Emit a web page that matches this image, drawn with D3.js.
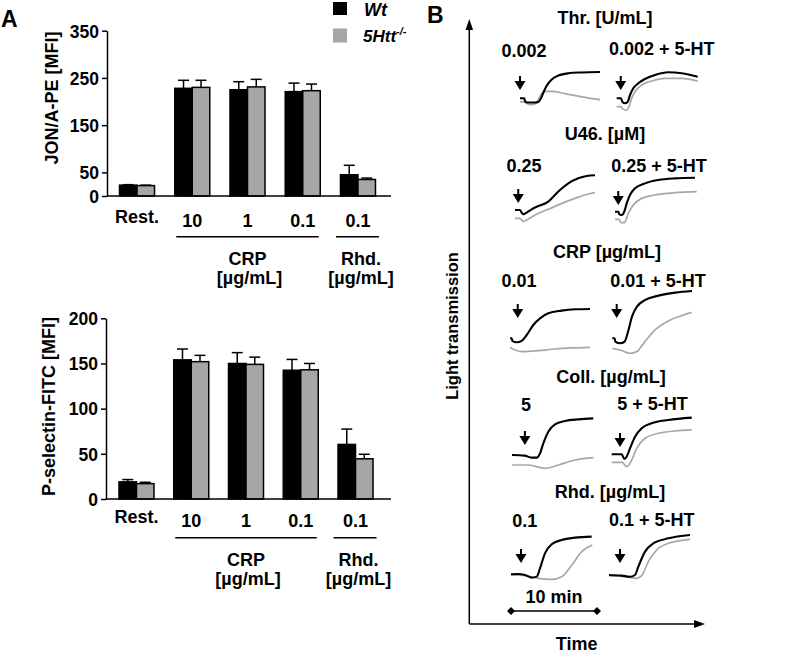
<!DOCTYPE html>
<html><head><meta charset="utf-8">
<script src="https://cdn.jsdelivr.net/npm/d3@7"></script>
<style>
body{margin:0;background:#fff}
svg{display:block}
text{font-family:"Liberation Sans",Arial,sans-serif;font-weight:bold;fill:#000}
</style>
</head><body><svg id="c" width="789" height="654"></svg>
<script>
// ---------- DATA: panel A ----------
const categories = ["Rest.", "10", "1", "0.1", "0.1"];
const seriesNames = ["Wt", "5Htt"];
const jonaWt    = [23, 228, 225, 221, 45];
const jonaWtErr = [1, 17, 17, 18, 20];
const jonaKo    = [22, 230, 231, 223, 35];
const jonaKoErr = [1, 15, 16, 14, 3];
const jonaTicks = [0, 50, 150, 250, 350];
const pselWt    = [19, 154, 150, 142.5, 60.4];
const pselWtErr = [2.5, 12, 12, 12, 17];
const pselKo    = [17, 152, 149, 143, 44.5];
const pselKoErr = [1.5, 7, 8, 7, 5];
const pselTicks = [0, 50, 100, 150, 200];

// ---------- DATA: panel B (time in min, light transmission in %) ----------
const traceTitles = ["Thr. [U/mL]", "U46. [µM]", "CRP [µg/mL]", "Coll. [µg/mL]", "Rhd. [µg/mL]"];
const leftLabels  = ["0.002", "0.25", "0.01", "5", "0.1"];
const rightLabels = ["0.002 + 5-HT", "0.25 + 5-HT", "0.01 + 5-HT", "5 + 5-HT", "0.1 + 5-HT"];
const thrL_wt = [[0,0],[0.5,0],[0.58,-4.8],[0.9,-6.9],[1.74,-6.9],[2.13,-6.1],[2.44,0],[2.71,9.2],[3.1,20.8],[3.69,31.4],[4.45,37.9],[5.62,41.7],[7.17,43.1],[9.3,43.9]];
const thrL_ko = [[0,-5.6],[0.58,-6.9],[1.16,-10.7],[1.74,-9.3],[2.13,-2.3],[2.52,8.3],[2.91,11.5],[3.69,11.5],[5.23,7.8],[7.17,2.3],[9.3,-2.3]];
const thrR_wt = [[0,0],[0.5,0],[0.65,-5.7],[0.97,-8.3],[1.28,-5.7],[1.55,5.5],[1.93,16.7],[2.51,25],[3.29,32.2],[4.45,38.8],[6,43.3],[7.56,41.7],[9.42,36]];
const thrR_ko = [[0,-14],[0.5,-14],[0.65,-16.7],[1.16,-19.5],[1.43,-14],[1.74,0],[2.13,11],[2.91,22.2],[4.07,28.8],[5.62,33.3],[7.56,33.3],[9.42,28.8]];
const u46L_wt = [[0,0],[0.58,0],[0.78,-4.4],[0.97,-7.2],[1.36,-4.4],[1.94,1.1],[2.71,6.7],[3.87,13.9],[4.45,22.2],[5.23,33.3],[6.2,44.4],[7.36,52.8],[8.34,56.7],[9.3,58]];
const u46L_ko = [[0,-13.9],[0.58,-13.9],[0.97,-19.4],[1.36,-16.7],[2.33,-8.3],[3.87,1.1],[5.43,11.1],[6.98,19.4],[8.53,26.7],[9.3,29]];
const u46R_wt = [[0,0],[0.39,0],[0.5,-4.4],[0.78,-5.5],[1.08,0],[1.36,13.9],[1.74,27.8],[2.33,38.9],[3.49,47.2],[5.03,52.8],[6.98,55.6],[9.3,56.7]];
const u46R_ko = [[0,-12.8],[0.46,-12.8],[0.7,-18.3],[1.08,-18.3],[1.55,-2.8],[2.13,11.1],[3.1,22.2],[4.65,27.8],[6.98,31.7],[9.5,33.3]];
const crpL_wt = [[0,0],[0.19,0],[0.27,-4.4],[0.78,-6.7],[1.36,-4.4],[1.94,5.5],[2.71,22.2],[3.49,33.3],[4.45,41.7],[6.01,46.1],[7.56,48.3],[9.3,48.9]];
const crpL_ko = [[0,-15],[0.58,-19.5],[1.36,-22.2],[3.29,-20.6],[5.23,-17.8],[7.17,-16.1],[9.3,-15]];
const crpR_wt = [[0,0],[0.27,0],[0.35,-5.5],[0.93,-8.3],[1.43,-5.5],[1.83,11.1],[2.29,36.1],[2.87,52.8],[3.84,63.9],[5.39,71.1],[7.33,76.1],[9.27,78.9]];
const crpR_ko = [[0,-16.7],[0.9,-19.5],[2.06,-25],[2.83,-22.2],[3.8,-5.5],[4.97,13.9],[6.51,28.9],[8.06,37.8],[9.23,43.3]];
const collL_wt = [[0,0],[1.47,-1.1],[2.29,-4.4],[2.87,-4.4],[3.26,2.8],[3.64,19.5],[4.22,38.9],[5,51.1],[6.16,56.7],[7.71,59.4],[9.45,61.1]];
const collL_ko = [[0,-16.7],[1.9,-16.7],[2.87,-19.5],[3.84,-22.2],[5.38,-16.7],[7.33,-8.3],[9.45,-4.4]];
const collR_wt = [[0,0],[1.16,0],[1.47,-7.8],[1.74,-4],[2.13,10],[2.71,29.4],[3.49,43.3],[4.65,51.7],[6.59,57.2],[9.31,61.1]];
const collR_ko = [[0,-13.3],[1.22,-13.3],[1.74,-20.6],[2.13,-15],[2.91,10],[3.88,26.7],[5.43,35],[7.36,38.9],[9.31,40.6]];
const rhdL_wt = [[0,0],[0.85,0.6],[1.63,-1.1],[2.41,-5.5],[2.99,-3.9],[3.37,10],[3.95,35],[4.73,50],[5.9,57.2],[7.44,61.1],[9.38,62.8]];
const rhdL_ko = [[0,-1.1],[1.63,-2.2],[3.18,-6.7],[4.73,-8.3],[5.9,-3.9],[7.07,15.5],[8.22,37.7],[9.45,48.9]];
const rhdR_wt = [[0,0],[1.47,-1.1],[2.44,-2.8],[3.02,0],[3.41,13.9],[4.19,38.9],[5.15,52.8],[6.9,61.1],[9.42,66.7]];
const rhdR_ko = [[0,-1.1],[1.86,-2.8],[3.22,-5.5],[3.8,-1.1],[4.57,22.2],[5.54,41.7],[6.9,52.8],[9.42,59.4]];
const leftTraces  = [[thrL_wt,thrL_ko],[u46L_wt,u46L_ko],[crpL_wt,crpL_ko],[collL_wt,collL_ko],[rhdL_wt,rhdL_ko]];
const rightTraces = [[thrR_wt,thrR_ko],[u46R_wt,u46R_ko],[crpR_wt,crpR_ko],[collR_wt,collR_ko],[rhdR_wt,rhdR_ko]];
const arrowTimeLeft  = [0, 0.38, 0.9, 1.5, 1.16];
const arrowTimeRight = [0.47, 0.38, 0.51, 0.97, 1.28];
const scaleBarMinutes = 10;

// ---------- LAYOUT ----------
const BLACK = "#000", GREY = "#a6a6a6", TGREY = "#a8a8a8";
const svg = d3.select("#c");

function barChart(o) {
  const x = d3.scaleBand().domain(d3.range(categories.length)).range(o.xr);
  const y = d3.scaleLinear().domain(o.yd).range(o.yr);
  const g = svg.append("g");
  const bw = 17.5;
  const cx = i => x(i) + x.bandwidth() / 2;
  categories.forEach((c, i) => {
    [[o.wt, o.wtErr, BLACK, cx(i) - bw], [o.ko, o.koErr, GREY, cx(i)]].forEach(([v, e, col, x0]) => {
      const m = x0 + bw / 2;
      g.append("line").attr("x1", m).attr("x2", m).attr("y1", y(v[i])).attr("y2", y(v[i] + e[i]))
        .attr("stroke", BLACK).attr("stroke-width", 1.5);
      g.append("line").attr("x1", m - 5.5).attr("x2", m + 5.5).attr("y1", y(v[i] + e[i])).attr("y2", y(v[i] + e[i]))
        .attr("stroke", BLACK).attr("stroke-width", 1.5);
      g.append("rect").attr("x", x0).attr("y", y(v[i])).attr("width", bw).attr("height", y(0) - y(v[i]))
        .attr("fill", col).attr("stroke", BLACK).attr("stroke-width", 1.5);
    });
    g.append("text").attr("x", cx(i)).attr("y", o.labY + (i === 0 ? -4 : 0))
      .attr("text-anchor", "middle").attr("font-size", 18).text(c);
  });
  // axes
  const ax = g.append("g").attr("transform", `translate(${o.axisX},0)`)
    .call(d3.axisLeft(y).tickValues(o.ticks).tickSize(5).tickSizeOuter(0).tickPadding(3));
  ax.attr("font-size", null).attr("font-family", null);
  ax.selectAll("text").attr("font-size", 17.5).attr("dy", "0.36em");
  ax.selectAll("line, path").attr("stroke-width", 1.5);
  g.append("line").attr("x1", o.axisX).attr("x2", o.xEnd).attr("y1", y(0)).attr("y2", y(0))
    .attr("stroke", BLACK).attr("stroke-width", 1.5);
  // brackets
  const by = o.bracketY;
  g.append("line").attr("x1", cx(1) - 16).attr("x2", cx(3) + 16).attr("y1", by).attr("y2", by).attr("stroke", BLACK).attr("stroke-width", 1.5);
  g.append("line").attr("x1", cx(4) - 22).attr("x2", cx(4) + 21).attr("y1", by).attr("y2", by).attr("stroke", BLACK).attr("stroke-width", 1.5);
  const gx1 = cx(2), gx2 = cx(4) + 3;
  g.append("text").attr("x", gx1).attr("y", by + 28).attr("text-anchor", "middle").attr("font-size", 18).text("CRP");
  g.append("text").attr("x", gx1 + 2).attr("y", by + 47).attr("text-anchor", "middle").attr("font-size", 18).text("[µg/mL]");
  g.append("text").attr("x", gx2).attr("y", by + 28).attr("text-anchor", "middle").attr("font-size", 18).text("Rhd.");
  g.append("text").attr("x", gx2).attr("y", by + 47).attr("text-anchor", "middle").attr("font-size", 18).text("[µg/mL]");
  // y title
  g.append("text").attr("transform", `translate(${o.titleX},${o.titleY}) rotate(-90)`)
    .attr("text-anchor", "middle").attr("font-size", 18).text(o.title);
}

barChart({xr: [109.4, 385.6], yd: [0, 350], yr: [196, 30.7], ticks: jonaTicks, axisX: 107, xEnd: 391,
  wt: jonaWt, wtErr: jonaWtErr, ko: jonaKo, koErr: jonaKoErr, labY: 227, bracketY: 236.7,
  title: "JON/A-PE [MFI]", titleX: 58, titleY: 98});
barChart({xr: [109.1, 382.9], yd: [0, 200], yr: [499, 318.3], ticks: pselTicks, axisX: 106, xEnd: 391,
  wt: pselWt, wtErr: pselWtErr, ko: pselKo, koErr: pselKoErr, labY: 527, bracketY: 537.7,
  title: "P-selectin-FITC [MFI]", titleX: 55, titleY: 406.5});

// legend
svg.append("rect").attr("x", 333).attr("y", 2).attr("width", 14).attr("height", 13).attr("fill", BLACK);
svg.append("rect").attr("x", 333).attr("y", 28.5).attr("width", 14).attr("height", 14).attr("fill", GREY);
svg.append("text").attr("x", 364).attr("y", 16).attr("font-size", 18).attr("font-style", "italic").text(seriesNames[0]);
const lt = svg.append("text").attr("x", 363).attr("y", 41.5).attr("font-size", 17).attr("font-style", "italic");
lt.append("tspan").text(seriesNames[1]);
lt.append("tspan").attr("font-size", 11).attr("dy", -7).text("-/-");

// panel letters
svg.append("text").attr("x", 1).attr("y", 27).attr("font-size", 23).text("A");
svg.append("text").attr("x", 427).attr("y", 23).attr("font-size", 23).text("B");

// ---------- PANEL B ----------
const axX = 469.3, axY = 624;
svg.append("line").attr("x1", axX).attr("x2", axX).attr("y1", axY).attr("y2", 28).attr("stroke", BLACK).attr("stroke-width", 1.5);
svg.append("path").attr("d", `M${axX},19 L${axX - 3.8},30 L${axX + 3.8},30 Z`).attr("fill", BLACK);
svg.append("line").attr("x1", axX).attr("x2", 697).attr("y1", axY).attr("y2", axY).attr("stroke", BLACK).attr("stroke-width", 1.5);
svg.append("path").attr("d", `M705,${axY} L694,${axY - 4} L694,${axY + 4} Z`).attr("fill", BLACK);
svg.append("text").attr("transform", `translate(458,326) rotate(-90)`).attr("text-anchor", "middle")
  .attr("font-size", 16.5).attr("font-weight", "normal").text("Light transmission");
svg.append("text").attr("x", 576.7).attr("y", 650).attr("text-anchor", "middle").attr("font-size", 18).text("Time");

const rowX0L = [520, 515, 510, 512, 511];
const rowX0R = [616.7, 615, 612.3, 611.7, 609];
const rowBaseL = [98.3, 210, 338.3, 455, 574.3];
const rowBaseR = [98.3, 211.7, 338.3, 454.3, 575];
const arrowTipL = [90, 203, 318, 445, 563];
const arrowTipR = [90, 205, 318, 447, 563];
const titleY = [24, 140, 258, 383, 498];
const titleX = [605, 605, 607, 611, 610];
const lLabX = [524, 524, 519, 526, 524.7], lLabY = [56.7, 172, 287, 411, 527];
const rLabX = [661.7, 659, 658, 652.5, 651.7], rLabY = [55, 172, 287, 410, 526];
const PX_PER_MIN = 8.6, PX_PER_PCT = 0.6;

function tracePanel(x0, base, traces, arrowT, tipY) {
  const x = d3.scaleLinear().domain([0, 10]).range([x0, x0 + 10 * PX_PER_MIN]);
  const y = d3.scaleLinear().domain([0, 100]).range([base, base - 100 * PX_PER_PCT]);
  const line = d3.line().x(d => x(d[0])).y(d => y(d[1])).curve(d3.curveMonotoneX);
  svg.append("path").attr("d", line(traces[1])).attr("fill", "none").attr("stroke", TGREY).attr("stroke-width", 1.7);
  svg.append("path").attr("d", line(traces[0])).attr("fill", "none").attr("stroke", BLACK).attr("stroke-width", 2.1);
  const ax = x(arrowT);
  svg.append("line").attr("x1", ax).attr("x2", ax).attr("y1", tipY - 14).attr("y2", tipY - 6).attr("stroke", BLACK).attr("stroke-width", 2);
  svg.append("path").attr("d", `M${ax},${tipY} L${ax - 5.5},${tipY - 9} L${ax + 5.5},${tipY - 9} Z`).attr("fill", BLACK);
  return x;
}

let lastX;
traceTitles.forEach((t, r) => {
  svg.append("text").attr("x", titleX[r]).attr("y", titleY[r]).attr("text-anchor", "middle").attr("font-size", 18).text(t);
  svg.append("text").attr("x", lLabX[r]).attr("y", lLabY[r]).attr("text-anchor", "middle").attr("font-size", 18).text(leftLabels[r]);
  svg.append("text").attr("x", rLabX[r]).attr("y", rLabY[r]).attr("text-anchor", "middle").attr("font-size", 18).text(rightLabels[r]);
  lastX = tracePanel(rowX0L[r], rowBaseL[r], leftTraces[r], arrowTimeLeft[r], arrowTipL[r]);
  tracePanel(rowX0R[r], rowBaseR[r], rightTraces[r], arrowTimeRight[r], arrowTipR[r]);
});

// scale bar (10 min)
const sbY = 611, sx1 = lastX(0), sx2 = lastX(scaleBarMinutes);
svg.append("line").attr("x1", sx1).attr("x2", sx2).attr("y1", sbY).attr("y2", sbY).attr("stroke", BLACK).attr("stroke-width", 1.5);
[sx1, sx2].forEach(sx => svg.append("path").attr("d", `M${sx - 4},${sbY} L${sx},${sbY - 4} L${sx + 4},${sbY} L${sx},${sbY + 4} Z`).attr("fill", BLACK));
svg.append("text").attr("x", (sx1 + sx2) / 2).attr("y", 603).attr("text-anchor", "middle").attr("font-size", 18).text(scaleBarMinutes + " min");
</script>
</body></html>
